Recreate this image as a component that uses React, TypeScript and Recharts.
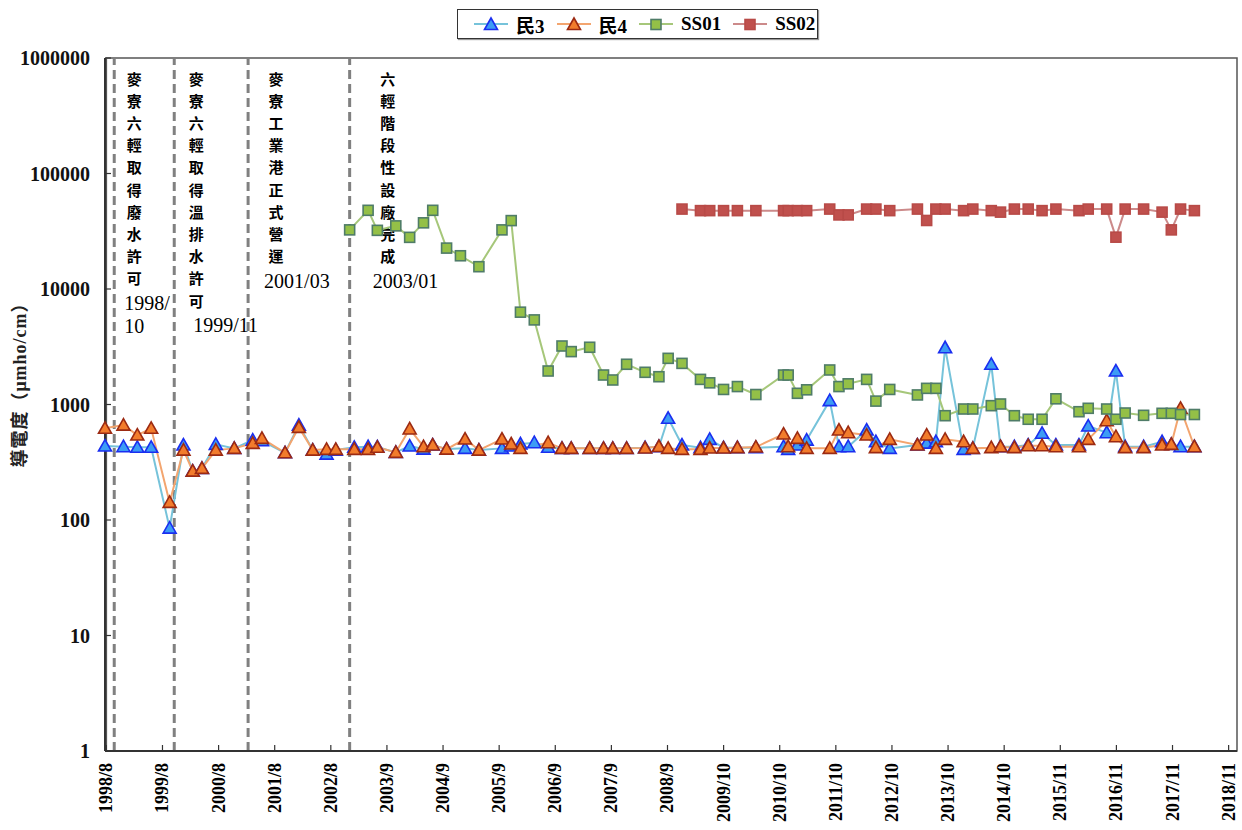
import React from 'react'
import { LineChart, Line, XAxis, YAxis, ReferenceLine, ReferenceArea, Legend } from 'recharts'

const SERIF = '"Liberation Serif", "Times New Roman", "Noto Sans CJK TC", serif'
const CJK = '"Noto Sans CJK TC", "Noto Sans CJK SC", sans-serif'

// x axis: dates as decimal years, ticks every 370 days from the axis start
const axisStart = '1998/08/10'
const axisEnd = '2019/01/08'
const xTickStepDays = 370
const xTickLabels = [
  '1998/8', '1999/8', '2000/8', '2001/8', '2002/8', '2003/9', '2004/9', '2005/9', '2006/9', '2007/9', '2008/9',
  '2009/10', '2010/10', '2011/10', '2012/10', '2013/10', '2014/10', '2015/11', '2016/11', '2017/11', '2018/11',
]
const yTicks = [1, 10, 100, 1000, 10000, 100000, 1000000]

// events (dashed lines)
const eventDates = ['1998/10', '1999/11', '2001/03', '2003/01']
const eventTexts = ['麥寮六輕取得廢水許可', '麥寮六輕取得溫排水許可', '麥寮工業港正式營運', '六輕階段性設廠完成']
const eventDateLines = [['1998/', '10'], ['1999/11'], ['2001/03'], ['2003/01']]

// 民3
const well3Dates = [
  '1998/08', '1998/12', '1999/03', '1999/06', '1999/10', '2000/01', '2000/03', '2000/05', '2000/08', '2000/12',
  '2001/04', '2001/06', '2001/11', '2002/02', '2002/05', '2002/08', '2002/10', '2003/02', '2003/05', '2003/07',
  '2003/11', '2004/02', '2004/05', '2004/07', '2004/10', '2005/02', '2005/05', '2005/10', '2005/12', '2006/02',
  '2006/05', '2006/08', '2006/11', '2007/01', '2007/05', '2007/08', '2007/10', '2008/01', '2008/05', '2008/08',
  '2008/10', '2009/01', '2009/05', '2009/07', '2009/10', '2010/01', '2010/05', '2010/11', '2010/12', '2011/02',
  '2011/04', '2011/09', '2011/11', '2012/01', '2012/05', '2012/07', '2012/10', '2013/04', '2013/06', '2013/08',
  '2013/10', '2014/02', '2014/04', '2014/08', '2014/10', '2015/01', '2015/04', '2015/07', '2015/10', '2016/03',
  '2016/05', '2016/09', '2016/11', '2017/01', '2017/05', '2017/09', '2017/11', '2018/01', '2018/04',
]
const well3Values = [
  437, 431, 426, 426, 85, 446, 265, 280, 452, 417,
  492, 485, 382, 663, 403, 372, 403, 426, 431, 429,
  385, 437, 411, 446, 411, 417, 403, 417, 437, 455,
  467, 426, 417, 417, 417, 417, 417, 417, 423, 431,
  760, 446, 423, 499, 423, 423, 423, 431, 409, 446,
  492, 1080, 431, 431, 601, 476, 417, 446, 463, 476,
  3100, 409, 417, 2230, 431, 431, 446, 563, 446, 446,
  651, 570, 1950, 431, 431, 476, 452, 431, 431,
]

// 民4
const well4Dates = [
  '1998/08', '1998/12', '1999/03', '1999/06', '1999/10', '2000/01', '2000/03', '2000/05', '2000/08', '2000/12',
  '2001/04', '2001/06', '2001/11', '2002/02', '2002/05', '2002/08', '2002/10', '2003/02', '2003/05', '2003/07',
  '2003/11', '2004/02', '2004/05', '2004/07', '2004/10', '2005/02', '2005/05', '2005/10', '2005/12', '2006/02',
  '2006/08', '2006/11', '2007/01', '2007/05', '2007/08', '2007/10', '2008/01', '2008/05', '2008/08', '2008/10',
  '2009/01', '2009/05', '2009/07', '2009/10', '2010/01', '2010/05', '2010/11', '2010/12', '2011/02', '2011/04',
  '2011/09', '2011/11', '2012/01', '2012/05', '2012/07', '2012/10', '2013/04', '2013/06', '2013/08', '2013/10',
  '2014/02', '2014/04', '2014/08', '2014/10', '2015/01', '2015/04', '2015/07', '2015/10', '2016/03', '2016/05',
  '2016/09', '2016/11', '2017/01', '2017/05', '2017/09', '2017/11', '2018/01', '2018/04',
]
const well4Values = [
  622, 663, 544, 622, 142, 403, 265, 280, 403, 417,
  461, 509, 382, 634, 403, 409, 409, 409, 409, 426,
  385, 614, 431, 446, 411, 502, 403, 502, 455, 417,
  467, 417, 417, 417, 417, 417, 417, 420, 433, 417,
  409, 409, 420, 420, 423, 428, 555, 431, 509, 417,
  417, 601, 570, 544, 423, 499, 446, 544, 417, 499,
  476, 417, 423, 431, 423, 440, 440, 431, 431, 499,
  724, 526, 423, 423, 446, 452, 927, 431,
]

// SS01
const ss01Dates = [
  '2003/01', '2003/05', '2003/07', '2003/11', '2004/02', '2004/05', '2004/07', '2004/10', '2005/01', '2005/05',
  '2005/10', '2005/12', '2006/02', '2006/05', '2006/08', '2006/11', '2007/01', '2007/05', '2007/08', '2007/10',
  '2008/01', '2008/05', '2008/08', '2008/10', '2009/01', '2009/05', '2009/07', '2009/10', '2010/01', '2010/05',
  '2010/11', '2010/12', '2011/02', '2011/04', '2011/09', '2011/11', '2012/01', '2012/05', '2012/07', '2012/10',
  '2013/04', '2013/06', '2013/08', '2013/10', '2014/02', '2014/04', '2014/08', '2014/10', '2015/01', '2015/04',
  '2015/07', '2015/10', '2016/03', '2016/05', '2016/09', '2016/11', '2017/01', '2017/05', '2017/09', '2017/11',
  '2018/01', '2018/04',
]
const ss01Values = [
  32500, 48000, 32200, 35200, 28000, 37400, 48000, 22600, 19400, 15600,
  32500, 39100, 6300, 5400, 1950, 3210, 2870, 3130, 1800, 1630,
  2230, 1900, 1740, 2510, 2270, 1650, 1540, 1350, 1430, 1220,
  1800, 1800, 1250, 1340, 1990, 1430, 1510, 1650, 1070, 1350,
  1210, 1380, 1380, 800, 914, 914, 977, 1010, 800, 745,
  745, 1120, 866, 927, 914, 745, 844, 806, 839, 839,
  819, 819,
]

// SS02
const ss02Dates = [
  '2009/01', '2009/05', '2009/07', '2009/10', '2010/01', '2010/05', '2010/11', '2010/12', '2011/02', '2011/04',
  '2011/09', '2011/11', '2012/01', '2012/05', '2012/07', '2012/10', '2013/04', '2013/06', '2013/08', '2013/10',
  '2014/02', '2014/04', '2014/08', '2014/10', '2015/01', '2015/04', '2015/07', '2015/10', '2016/03', '2016/05',
  '2016/09', '2016/11', '2017/01', '2017/05', '2017/09', '2017/11', '2018/01', '2018/04',
]
const ss02Values = [
  49200, 47700, 47700, 47700, 47700, 47700, 47700, 47700, 47700, 47700,
  49200, 43800, 43800, 49200, 49200, 47700, 49200, 39200, 49200, 49200,
  47700, 49200, 47700, 46300, 49200, 49200, 47700, 49200, 47700, 49200,
  49200, 28100, 49200, 49200, 46300, 32500, 49200, 47700,
]

function parseDate(s: string) {
  const [y, m, d] = s.split('/').map(Number)
  return y + (m - 1) / 12 + ((d || 1) - 1) / 365.25
}

const xMin = parseDate(axisStart)
const xMax = parseDate(axisEnd)
const xTicks = xTickLabels.map((_, i) => xMin + (i * xTickStepDays) / 365.25)

const toPoints = (dates: string[], values: number[]) => dates.map((d, i) => ({ t: parseDate(d), v: values[i] }))

const series = [
  { name: '民3', data: toPoints(well3Dates, well3Values), line: '#76c3da', fill: '#3c9cf5', edge: '#1a2ef0', shape: 'triangle' },
  { name: '民4', data: toPoints(well4Dates, well4Values), line: '#f3a56f', fill: '#f27c2c', edge: '#9c2a12', shape: 'triangle' },
  { name: 'SS01', data: toPoints(ss01Dates, ss01Values), line: '#a6c77a', fill: '#94c047', edge: '#4f7c68', shape: 'square' },
  { name: 'SS02', data: toPoints(ss02Dates, ss02Values), line: '#cc8a8a', fill: '#c0504d', edge: '#b84a47', shape: 'square' },
]

// glyph column / date text offsets from each dashed line
const eventLayout = [
  { glyphDx: 20, dateDx: 10 },
  { glyphDx: 22, dateDx: 19 },
  { glyphDx: 28, dateDx: 16 },
  { glyphDx: 38, dateDx: 23 },
]

function Marker({ cx, cy, shape, fill, edge }: { cx: number; cy: number; shape: string; fill: string; edge: string }) {
  if (shape === 'triangle') {
    return <polygon points={`${cx},${cy - 6.5} ${cx - 6.5},${cy + 5} ${cx + 6.5},${cy + 5}`} fill={fill} stroke={edge} strokeWidth={1.6} />
  }
  return <rect x={cx - 5} y={cy - 5} width={10} height={10} fill={fill} stroke={edge} strokeWidth={1.6} />
}

const makeDot = (s: (typeof series)[number]) => (props: any) => {
  const { cx, cy, index } = props
  if (cx == null || cy == null) return <g key={`${s.name}-${index}`} />
  return (
    <g key={`${s.name}-${index}`}>
      <Marker cx={cx} cy={cy} shape={s.shape} fill={s.fill} edge={s.edge} />
    </g>
  )
}

function XTick(props: any) {
  const { x, y, index } = props
  return (
    <g>
      <line x1={x} x2={x} y1={y} y2={y - 6} stroke="#333" strokeWidth={1.2} />
      <text
        x={x}
        y={y + 12}
        transform={`rotate(-90 ${x} ${y + 12})`}
        textAnchor="end"
        dominantBaseline="central"
        fontFamily={SERIF}
        fontSize={18}
        fontWeight="bold"
        fill="#000"
      >
        {xTickLabels[index]}
      </text>
    </g>
  )
}

function YTick(props: any) {
  const { x, y, payload } = props
  return (
    <g>
      <line x1={x} x2={x + 6} y1={y} y2={y} stroke="#333" strokeWidth={1.2} />
      <text
        x={x - 15}
        y={y}
        dy={7}
        textAnchor="end"
        fill="#111"
        fontFamily={SERIF}
        fontSize={20}
        fontWeight="bold"
      >
        {String(payload.value)}
      </text>
    </g>
  )
}

function EventNote({ viewBox, idx }: { viewBox?: any; idx: number }) {
  const vb = viewBox || {}
  const x = vb.x ?? vb.x1 ?? 0
  const top = vb.y ?? vb.y1 ?? 58
  const chars = Array.from(eventTexts[idx])
  const lay = eventLayout[idx]
  const step = 22.2
  const first = top + 20
  return (
    <g>
      {chars.map((c, i) => (
        <text key={i} x={x + lay.glyphDx} y={first + i * step} textAnchor="middle" dominantBaseline="central" fontFamily={CJK} fontWeight="bold" fontSize={15} fill="#000">
          {c}
        </text>
      ))}
      {eventDateLines[idx].map((s, j) => (
        <text key={`d${j}`} x={x + lay.dateDx} y={first + chars.length * step + 3 + j * 23} dominantBaseline="central" fontFamily={SERIF} fontSize={20} fill="#000">
          {s}
        </text>
      ))}
    </g>
  )
}

function YTitle({ viewBox }: { viewBox?: any }) {
  const vb = viewBox || {}
  const cy = (vb.y ?? 58) + (vb.height ?? 693) / 2 - 24
  return (
    <text x={20} y={cy} transform={`rotate(-90 20 ${cy})`} textAnchor="middle" dominantBaseline="central" fontFamily={SERIF} fontSize={18} fontWeight="bold" fill="#222" letterSpacing={1}>
      導電度（μmho/cm）
    </text>
  )
}

function LegendBox() {
  return (
    <div
      style={{
        border: '1.5px solid #333',
        boxShadow: '1px 1px 1px #999',
        height: 30,
        boxSizing: 'border-box',
        display: 'flex',
        alignItems: 'center',
        paddingLeft: 16,
        fontFamily: SERIF,
        fontSize: 19,
        fontWeight: 'bold',
        background: '#fff',
        whiteSpace: 'nowrap',
      }}
    >
      {series.map((s) => (
        <div key={s.name} style={{ display: 'flex', alignItems: 'center', marginRight: 12, flexShrink: 0 }}>
          <svg width={34} height={16} style={{ marginRight: 8, flexShrink: 0 }}>
            <line x1={0} x2={34} y1={8} y2={8} stroke={s.line} strokeWidth={2} />
            <Marker cx={17} cy={8.5} shape={s.shape} fill={s.fill} edge={s.edge} />
          </svg>
          <span>{s.name}</span>
        </div>
      ))}
    </div>
  )
}

export default function App() {
  return (
    <div style={{ position: 'absolute', left: 0, top: 0, background: '#fff' }}>
      <LineChart width={1242} height={830} margin={{ top: 58, right: 5, bottom: 0, left: 0 }}>
        <XAxis
          type="number"
          dataKey="t"
          domain={[xMin, xMax]}
          ticks={xTicks}
          interval={0}
          height={79}
          tickSize={0}
          tickMargin={0}
          tickLine={false}
          tick={<XTick />}
          axisLine={{ stroke: '#333', strokeWidth: 2 }}
        />
        <YAxis
          scale="log"
          domain={[1, 1000000]}
          ticks={yTicks}
          interval={0}
          width={105}
          tickSize={0}
          tickMargin={0}
          tickLine={false}
          tick={<YTick />}
          axisLine={{ stroke: '#333', strokeWidth: 2 }}
          label={{ content: (p: any) => <YTitle viewBox={p.viewBox} /> }}
        />
        <ReferenceArea x1={xMin} x2={xMax} y1={1} y2={1000000} fill="none" stroke="#555" strokeWidth={1.5} ifOverflow="visible" />
        {eventDates.map((d, i) => (
          <ReferenceLine
            key={d}
            x={parseDate(d)}
            stroke="#808080"
            strokeWidth={3}
            strokeDasharray="9 5"
            label={{ content: (p: any) => <EventNote viewBox={p.viewBox} idx={i} /> }}
          />
        ))}
        {series.map((s) => (
          <Line
            key={s.name}
            data={s.data}
            dataKey="v"
            name={s.name}
            type="linear"
            stroke={s.line}
            strokeWidth={2}
            dot={makeDot(s)}
            activeDot={false}
            isAnimationActive={false}
          />
        ))}
        <Legend
          layout="horizontal"
          verticalAlign="middle"
          align="center"
          wrapperStyle={{ left: 457, top: 9, width: 361, height: 30 }}
          content={() => <LegendBox />}
        />
      </LineChart>
    </div>
  )
}
